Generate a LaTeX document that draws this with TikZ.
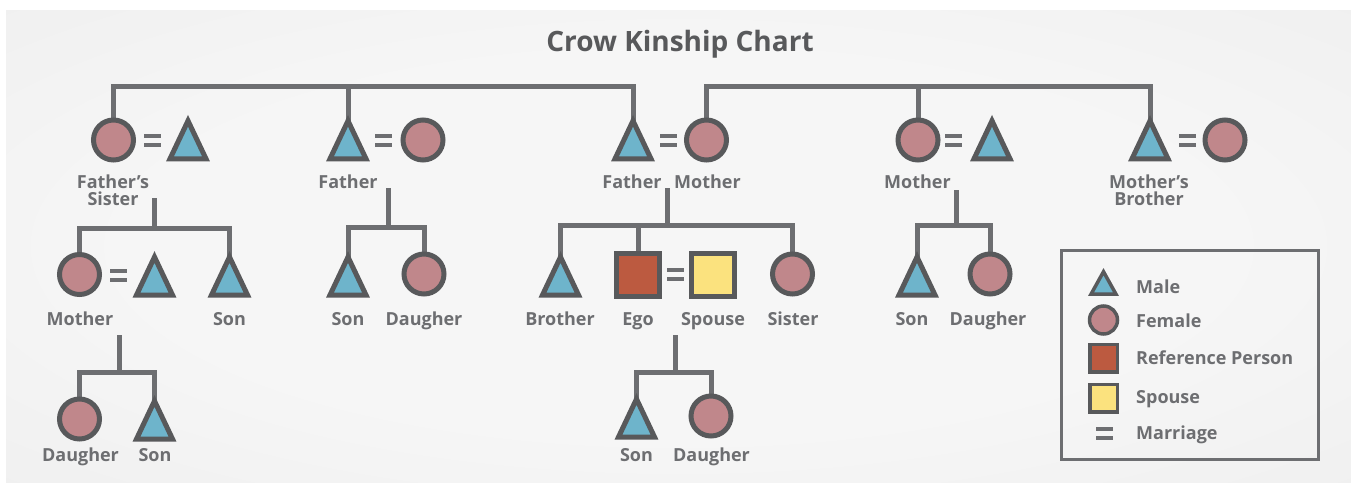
\documentclass[tikz,border=0pt]{standalone}
\usepackage{fontspec}
\setmainfont{Open Sans}
\usetikzlibrary{shapes.geometric}
\pgfdeclarelayer{back}
\pgfdeclarelayer{lines}
\pgfsetlayers{back,lines,main}
\definecolor{linec}{HTML}{6D6E71}
\definecolor{edgec}{HTML}{58595B}
\definecolor{malec}{HTML}{6EB4CB}
\definecolor{femc}{HTML}{C0878B}
\definecolor{egoc}{HTML}{BC5A40}
\definecolor{spc}{HTML}{FBE27E}
\definecolor{txtc}{HTML}{6D6E71}
\definecolor{titlec}{HTML}{58595B}
\definecolor{bgin}{HTML}{F6F6F6}
\definecolor{bgmid}{HTML}{EBEBEB}
\definecolor{bgout}{HTML}{E3E3E3}
\pgfdeclareradialshading{bgshade}{\pgfpoint{0bp}{0bp}}{color(0bp)=(bgin); color(20bp)=(bgin); color(50bp)=(bgmid); color(72bp)=(bgout)}
\tikzset{
  male/.style={isosceles triangle, isosceles triangle stretches, shape border rotate=90,
    minimum width=36pt, minimum height=38pt, inner sep=0pt, outer sep=0pt,
    draw=edgec, fill=malec, line width=5pt, line join=miter, anchor=apex},
  female/.style={circle, minimum size=40pt, inner sep=0pt, outer sep=0pt,
    draw=edgec, fill=femc, line width=5pt},
  egobox/.style={rectangle, minimum size=43pt, inner sep=0pt, outer sep=0pt,
    draw=edgec, fill=egoc, line width=5pt},
  spbox/.style={rectangle, minimum size=43pt, inner sep=0pt, outer sep=0pt,
    draw=edgec, fill=spc, line width=5pt},
  lmale/.style={male, minimum width=25pt, minimum height=22.5pt, line width=3.5pt},
  lfemale/.style={female, minimum size=28pt, line width=3.5pt},
  lego/.style={egobox, minimum size=27.5pt, line width=3.5pt},
  lsp/.style={spbox, minimum size=27.5pt, line width=3.5pt},
  conn/.style={draw=linec, line width=5pt, line join=miter},
  lbl/.style={font=\fontsize{18}{17}\selectfont\bfseries, text=txtc, inner sep=0pt, anchor=base, align=center},
  legendbox/.style={rectangle, draw=linec, line width=3pt, inner sep=0pt},
  eq/.pic={\fill[linec] (-8.5,-6.5) rectangle (8.5,-2.5); \fill[linec] (-8.5,2.5) rectangle (8.5,6.5);},
}
\begin{document}
\begin{tikzpicture}[x=1pt,y=-1pt]
\useasboundingbox (0,0) rectangle (1351,482);
\begin{pgfonlayer}{back}
  \fill[white] (0,0) rectangle (1351,482);
  \shade[shading=bgshade] (6,10) rectangle (1351,482);
\end{pgfonlayer}

\node[font=\fontsize{28}{30}\selectfont\bfseries, text=titlec, anchor=base, inner sep=0pt] (title) at (680,51) {Crow Kinship Chart};

% ---- row 1
\node[female] (fsis) at (113.5,140) {};
\pic at (152.5,140.5) {eq};
\node[male] (fsish) at (188,120.8) {};
\node[male] (fa) at (348,120.8) {};
\pic at (383,140.5) {eq};
\node[female] (faw) at (423,140) {};
\node[male] (fa2) at (633,120.8) {};
\pic at (668,140.5) {eq};
\node[female] (mo) at (706.5,140) {};
\node[female] (mo2) at (918,140) {};
\pic at (953,140.5) {eq};
\node[male] (mo2h) at (992,120.8) {};
\node[male] (mbro) at (1150,120.8) {};
\pic at (1187,140.5) {eq};
\node[female] (mbrow) at (1225,140) {};

\node[lbl] (l1) at (113,205) {Father’s\\Sister};
\node[lbl] (l2) at (348,188) {Father};
\node[lbl] (l3) at (632,188) {Father};
\node[lbl] (l4) at (707.5,188) {Mother};
\node[lbl] (l5) at (917.5,188) {Mother};
\node[lbl] (l6) at (1149,205) {Mother’s\\Brother};

% ---- row 2
\node[female] (mo4) at (79.5,274.5) {};
\pic at (118.5,275.5) {eq};
\node[male] (hus) at (154.5,257) {};
\node[male] (son1) at (229.5,257) {};
\node[male] (son2) at (348,257) {};
\node[female] (dau2) at (424,274) {};
\node[male] (bro) at (560.5,257) {};
\node[egobox] (ego) at (638,274.5) {};
\pic at (675,274) {eq};
\node[spbox] (sp) at (713,274.5) {};
\node[female] (sis) at (792.5,274) {};
\node[male] (son4) at (917,257) {};
\node[female] (dau4) at (990,274) {};

\node[lbl] (l7) at (80,325) {Mother};
\node[lbl] (l8) at (229.5,325) {Son};
\node[lbl] (l9) at (348,325) {Son};
\node[lbl] (l10) at (424,325) {Daugher};
\node[lbl] (l11) at (560,325) {Brother};
\node[lbl] (l12) at (638,325) {Ego};
\node[lbl] (l13) at (713,325) {Spouse};
\node[lbl] (l14) at (793,325) {Sister};
\node[lbl] (l15) at (912,325) {Son};
\node[lbl] (l16) at (988,325) {Daugher};

% ---- row 3
\node[female] (dau5) at (79.5,419) {};
\node[male] (son5) at (154.5,401) {};
\node[male] (son6) at (636.5,399) {};
\node[female] (dau6) at (711,416) {};

\node[lbl] (l17) at (80.5,461) {Daugher};
\node[lbl] (l18) at (155,461) {Son};
\node[lbl] (l19) at (636.5,461) {Son};
\node[lbl] (l20) at (711.5,461) {Daugher};

% ---- legend
\node[legendbox, minimum width=257pt, minimum height=209pt] (leg) at (1189.5,354.5) {};
\node[lmale] (lgm) at (1103.5,271.7) {};
\node[lfemale] (lgf) at (1103.5,320) {};
\node[lego] (lge) at (1103.5,358) {};
\node[lsp] (lgs) at (1103.5,398) {};
\pic at (1104,433.5) {eq};
\node[lbl, anchor=base west] (lt1) at (1136,293) {Male};
\node[lbl, anchor=base west] (lt2) at (1136,327) {Female};
\node[lbl, anchor=base west] (lt3) at (1136,364) {Reference Person};
\node[lbl, anchor=base west] (lt4) at (1136,403) {Spouse};
\node[lbl, anchor=base west] (lt5) at (1136,439) {Marriage};

% ---- connectors
\coordinate (top) at (0,86);
\coordinate (g1t) at (154,198); \coordinate (g1b) at (154,228);
\coordinate (g2t) at (388,188); \coordinate (g2b) at (388,227);
\coordinate (g3t) at (667,188); \coordinate (g3b) at (667,225);
\coordinate (g4t) at (956,190); \coordinate (g4b) at (956,225);
\coordinate (g5t) at (119,335); \coordinate (g5b) at (119,372);
\coordinate (g6t) at (675,335); \coordinate (g6b) at (675,372);
\begin{pgfonlayer}{lines}
  \draw[conn] (fsis.center) |- (top -| fa2.center) -- (fa2.center);
  \draw[conn] (fa.center) -- (fa.center |- top);
  \draw[conn] (mo.center) |- (top -| mbro.center) -- (mbro.center);
  \draw[conn] (mo2.center) -- (mo2.center |- top);
  \draw[conn] (g1t) -- (g1b);
  \draw[conn] (mo4.center) |- (g1b) -| (son1.center);
  \draw[conn] (g2t) -- (g2b);
  \draw[conn] (son2.center) |- (g2b) -| (dau2.center);
  \draw[conn] (g3t) -- (g3b);
  \draw[conn] (bro.center) |- (g3b) -| (sis.center);
  \draw[conn] (ego.center) -- (ego.center |- g3b);
  \draw[conn] (g4t) -- (g4b);
  \draw[conn] (son4.center) |- (g4b) -| (dau4.center);
  \draw[conn] (g5t) -- (g5b);
  \draw[conn] (dau5.center) |- (g5b) -| (son5.center);
  \draw[conn] (g6t) -- (g6b);
  \draw[conn] (son6.center) |- (g6b) -| (dau6.center);
\end{pgfonlayer}
\end{tikzpicture}
\end{document}
